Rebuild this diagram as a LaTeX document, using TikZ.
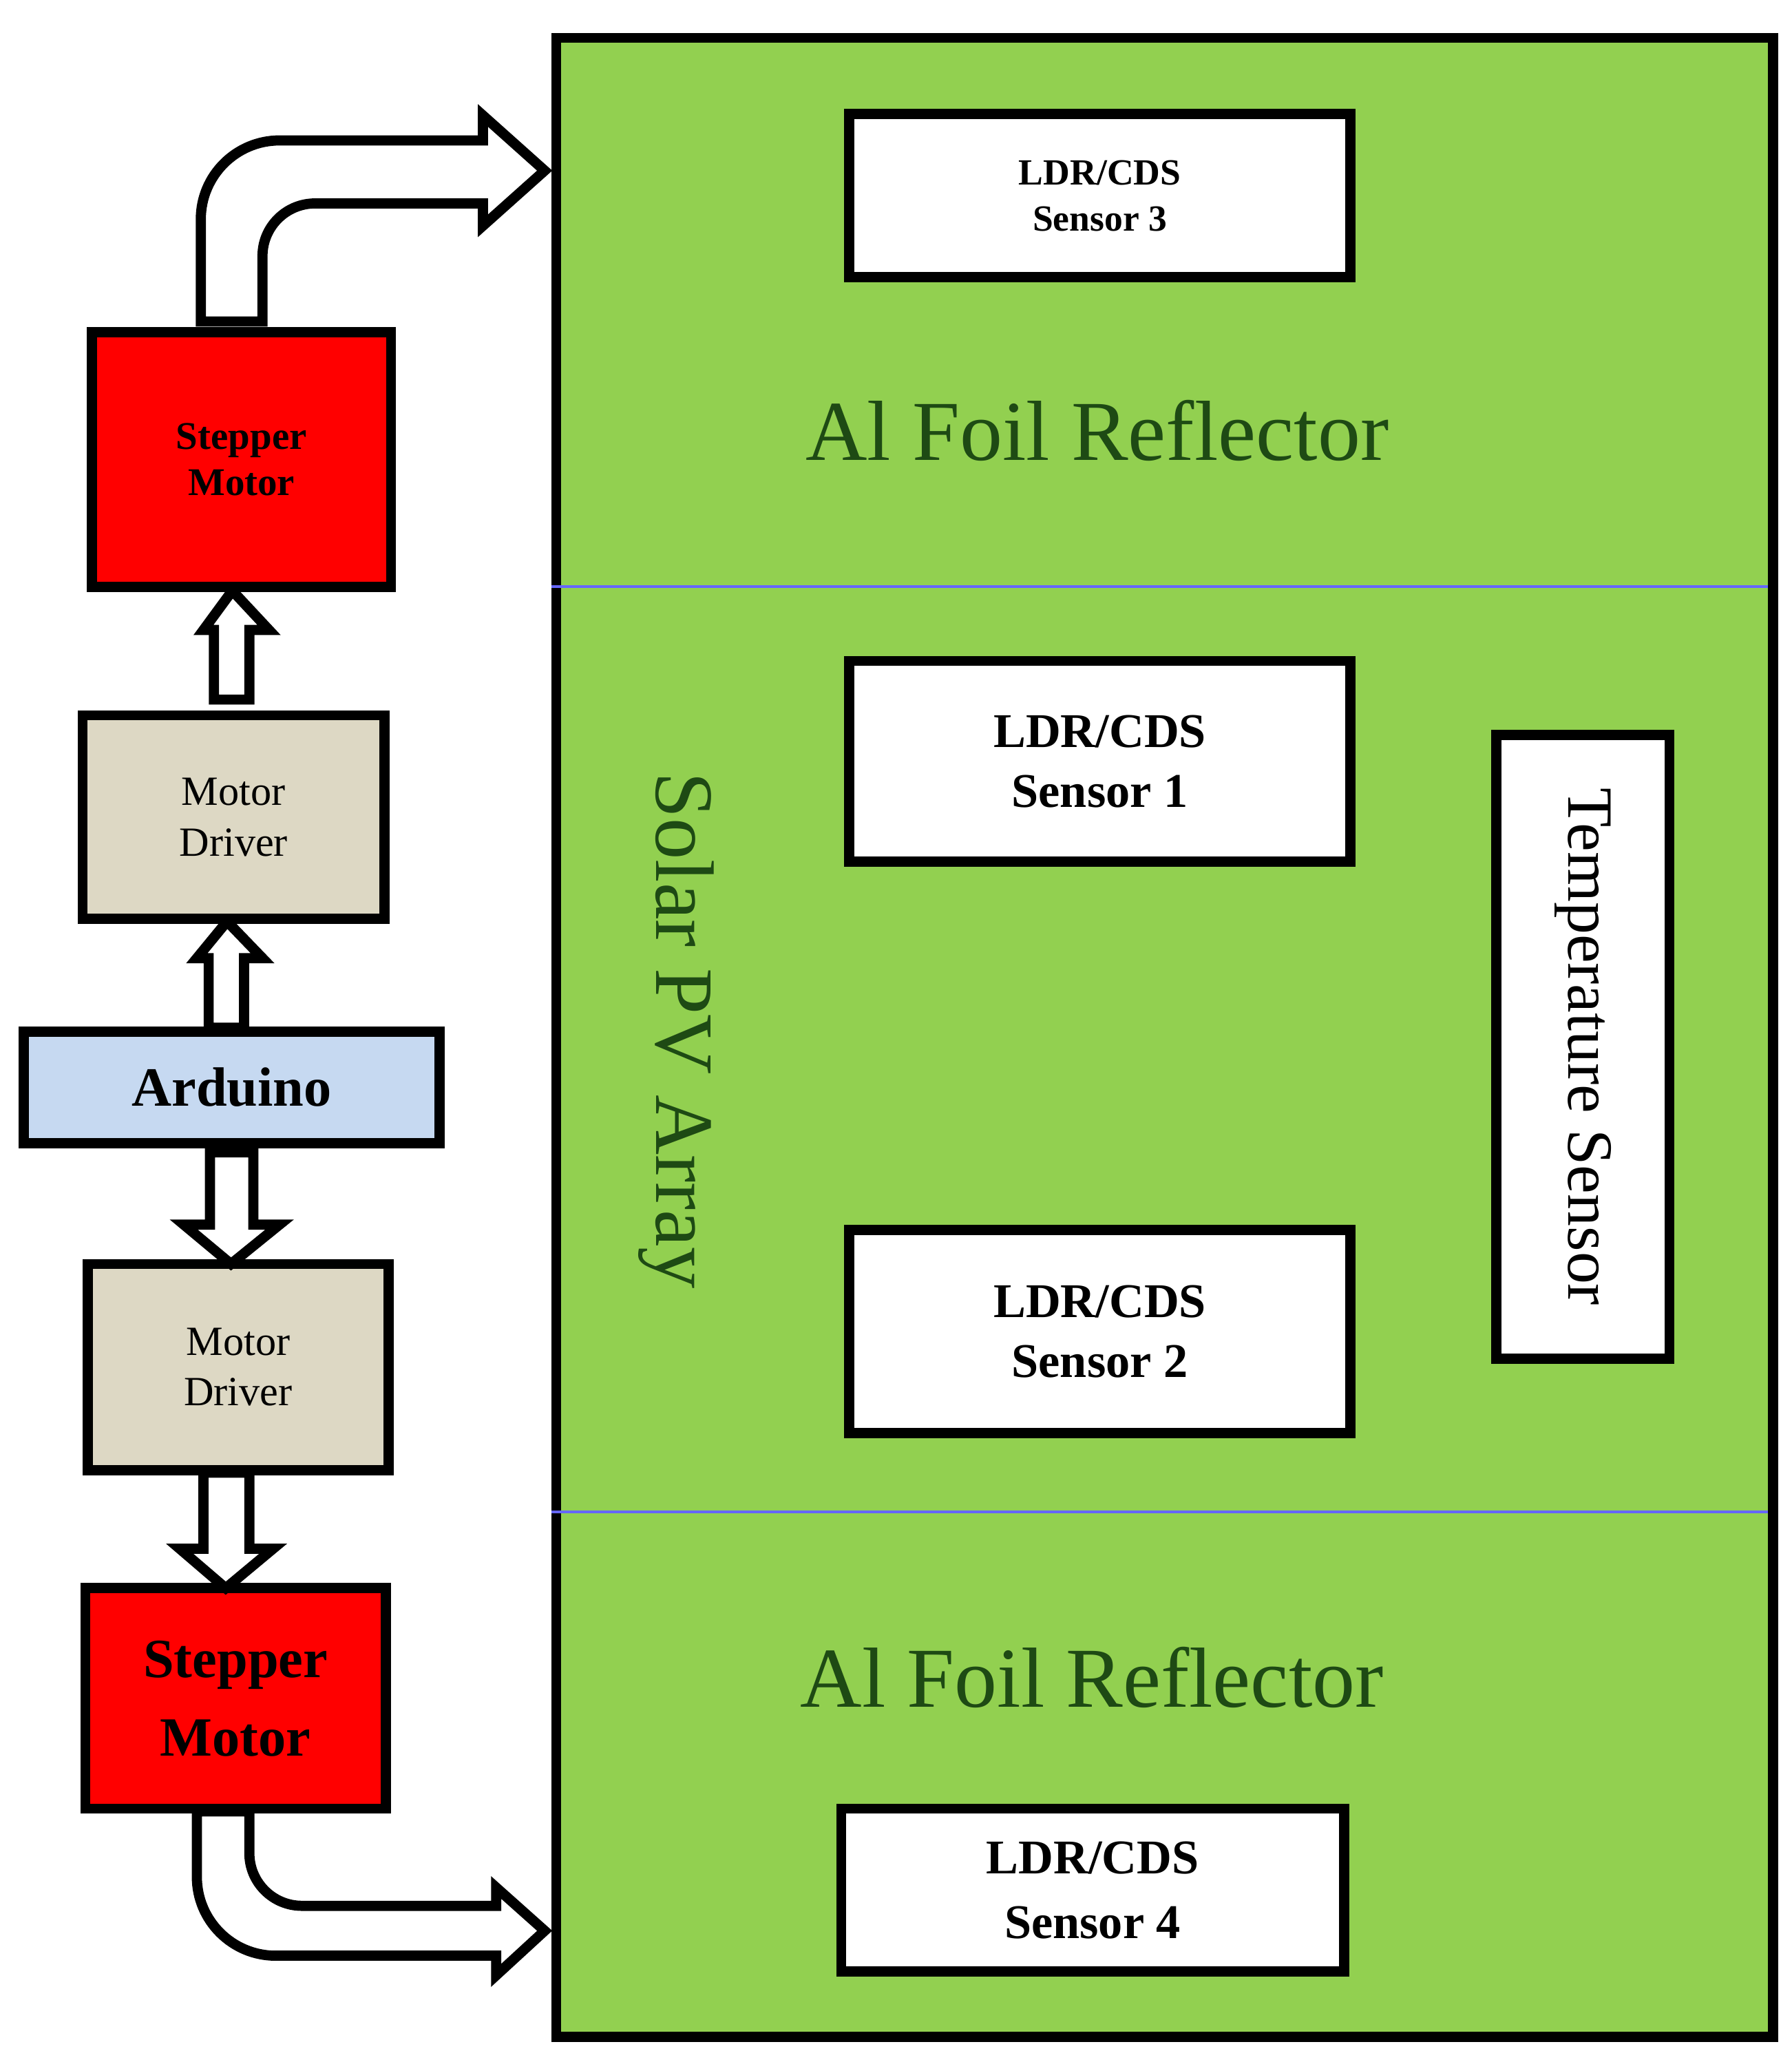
\documentclass[tikz,border=0pt]{standalone}
\usepackage{fontspec}
\setmainfont{Liberation Serif}
\definecolor{pvgreen}{HTML}{92D050}
\definecolor{drv}{HTML}{DDD8C4}
\definecolor{ard}{HTML}{C6D9F1}
\definecolor{dkgreen}{HTML}{1E4A14}
\begin{document}
\begin{tikzpicture}[x=1cm,y=1cm,
  box/.style={draw=black,line width=2.2pt,inner sep=0pt,align=center},
  sens/.style={box,fill=white,font=\bfseries},
  blk/.style={draw=black,line width=2.2pt,fill=white,line join=miter}]
\useasboundingbox (0,0) rectangle (13.65,-15.71);
% PV panel
\node[box,fill=pvgreen,minimum width=9.27cm,minimum height=15.23cm,anchor=north west] (pv) at (4.20,-0.25) {};
\draw[blue!60,line width=0.6pt] (4.20,-4.47) -- (13.47,-4.47);
\draw[blue!60,line width=0.6pt] (4.20,-11.52) -- (13.47,-11.52);
\node[sens,minimum width=3.82cm,minimum height=1.24cm,font=\bfseries\fontsize{8}{10}\selectfont] (s3) at (8.38,-1.49) {LDR/CDS\\Sensor 3};
\node[sens,minimum width=3.82cm,minimum height=1.53cm,font=\bfseries\fontsize{10.5}{13}\selectfont] (s1) at (8.38,-5.80) {LDR/CDS\\Sensor 1};
\node[sens,minimum width=3.82cm,minimum height=1.55cm,font=\bfseries\fontsize{10.5}{13}\selectfont] (s2) at (8.38,-10.145) {LDR/CDS\\Sensor 2};
\node[sens,minimum width=3.83cm,minimum height=1.24cm,font=\bfseries\fontsize{10.5}{14}\selectfont] (s4) at (8.325,-14.40) {LDR/CDS\\Sensor 4};
\node[box,fill=white,minimum width=1.32cm,minimum height=4.75cm] (ts) at (12.06,-7.975) {};
\node[rotate=-90,font=\fontsize{14}{16}\selectfont] (tst) at (12.06,-7.975) {Temperature Sensor};
\node[font=\fontsize{18.5}{20}\selectfont,text=dkgreen] (al1) at (8.36,-3.28) {Al Foil Reflector};
\node[font=\fontsize{18.5}{20}\selectfont,text=dkgreen] (al2) at (8.32,-12.78) {Al Foil Reflector};
\node[rotate=-90,font=\fontsize{18}{20}\selectfont,text=dkgreen] (spv) at (5.15,-7.85) {Solar PV Array};
% left column
\node[box,fill=red,minimum width=2.28cm,minimum height=1.94cm,font=\bfseries\fontsize{8.5}{10}\selectfont] (sm1) at (1.84,-3.50) {Stepper\\Motor};
\node[box,fill=drv,minimum width=2.30cm,minimum height=1.55cm,font=\fontsize{9}{11}\selectfont] (md1) at (1.78,-6.225) {Motor\\Driver};
\node[box,fill=ard,minimum width=3.17cm,minimum height=0.85cm,font=\bfseries\fontsize{12}{14}\selectfont] (ar) at (1.765,-8.285) {Arduino};
\node[box,fill=drv,minimum width=2.29cm,minimum height=1.57cm,font=\fontsize{9}{11}\selectfont] (md2) at (1.815,-10.415) {Motor\\Driver};
\node[box,fill=red,minimum width=2.29cm,minimum height=1.68cm,font=\bfseries\fontsize{12}{17}\selectfont] (sm2) at (1.795,-12.94) {Stepper\\Motor};
% up arrows
\draw[blk] (1.63,-5.33) -- (1.63,-4.80) -- (1.55,-4.80) -- (1.77,-4.50) -- (2.05,-4.80) -- (1.90,-4.80) -- (1.90,-5.33) -- cycle;
\draw[blk] (1.59,-7.83) -- (1.59,-7.30) -- (1.50,-7.30) -- (1.73,-7.02) -- (2.00,-7.30) -- (1.86,-7.30) -- (1.86,-7.83) -- cycle;
% down arrows
\draw[blk] (1.60,-8.78) -- (1.60,-9.33) -- (1.40,-9.33) -- (1.76,-9.63) -- (2.13,-9.33) -- (1.93,-9.33) -- (1.93,-8.78) -- cycle;
\draw[blk] (1.55,-11.22) -- (1.55,-11.80) -- (1.37,-11.80) -- (1.72,-12.10) -- (2.08,-11.80) -- (1.90,-11.80) -- (1.90,-11.22) -- cycle;
% curved arrows
\draw[blk] (1.53,-2.45) -- (1.53,-1.67) arc[start angle=180,end angle=90,radius=0.6] -- (3.68,-1.07) -- (3.68,-0.88) -- (4.15,-1.30) -- (3.68,-1.72) -- (3.68,-1.55) -- (2.40,-1.55) arc[start angle=90,end angle=180,radius=0.4] -- (2.00,-2.45) -- cycle;
\draw[blk] (1.50,-13.80) -- (1.50,-14.30) arc[start angle=180,end angle=270,radius=0.6] -- (3.78,-14.90) -- (3.78,-15.05) -- (4.15,-14.71) -- (3.78,-14.38) -- (3.78,-14.52) -- (2.30,-14.52) arc[start angle=270,end angle=180,radius=0.4] -- (1.90,-13.80) -- cycle;
\end{tikzpicture}
\end{document}
